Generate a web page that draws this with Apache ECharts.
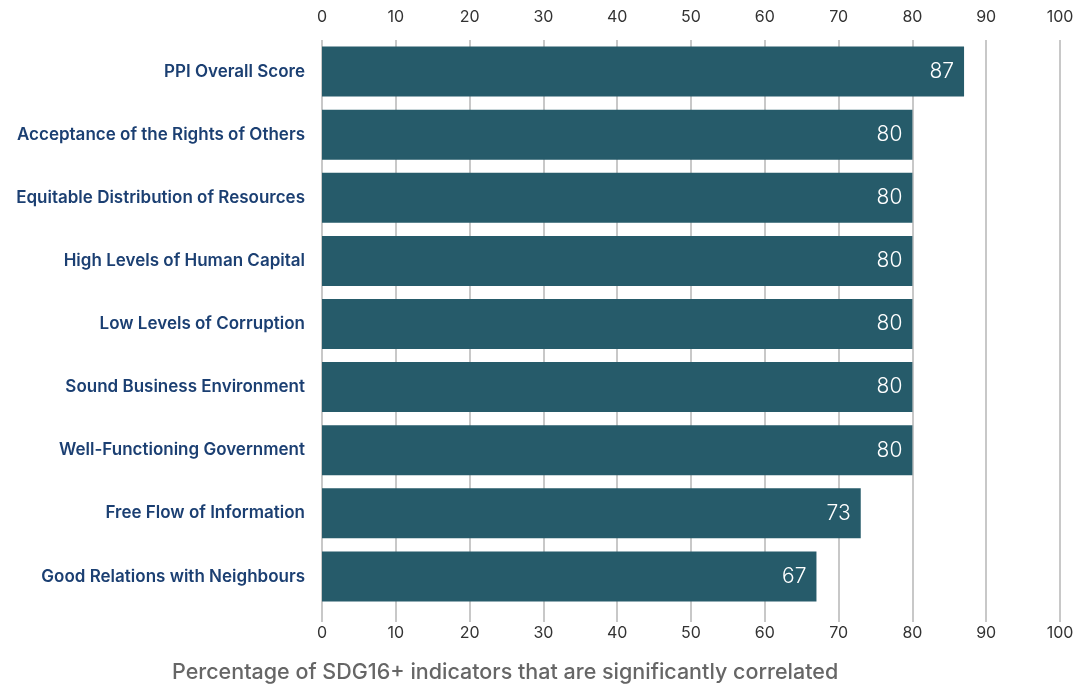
<!DOCTYPE html>
<html>
<head>
<meta charset="utf-8">
<script src="https://cdn.jsdelivr.net/npm/echarts@6/dist/echarts.min.js"></script>
<style>
  html, body { margin: 0; padding: 0; background: #fff; }
  #chart { width: 1087px; height: 688px; }
</style>
</head>
<body>
<div id="chart"></div>
<script>
const categories = [
  'PPI Overall Score',
  'Acceptance of the Rights of Others',
  'Equitable Distribution of Resources',
  'High Levels of Human Capital',
  'Low Levels of Corruption',
  'Sound Business Environment',
  'Well-Functioning Government',
  'Free Flow of Information',
  'Good Relations with Neighbours'
];
const values = [87, 80, 80, 80, 80, 80, 80, 73, 67];
const tickLabels = [0, 10, 20, 30, 40, 50, 60, 70, 80, 90, 100];

const font = 'Inter, "Open Sans", sans-serif';
const gridColor = '#c8c8c8';

const chart = echarts.init(document.getElementById('chart'));

chart.setOption({
  animation: false,
  grid: { left: 322, right: 27, top: 40, bottom: 80 },
  graphic: [{
    type: 'text',
    left: 172,
    top: 662,
    style: {
      text: 'Percentage of SDG16+ indicators that are significantly correlated',
      fill: '#666',
      font: '500 21.5px ' + font
    }
  }],
  xAxis: [
    {
      type: 'value',
      position: 'top',
      min: tickLabels[0],
      max: tickLabels[tickLabels.length - 1],
      interval: 10,
      axisLine: { show: false },
      axisTick: { show: false },
      axisLabel: { color: '#333', fontSize: 16, fontFamily: font, margin: 15 },
      splitLine: { show: true, lineStyle: { color: gridColor, width: 2 } }
    },
    {
      type: 'value',
      position: 'bottom',
      min: tickLabels[0],
      max: tickLabels[tickLabels.length - 1],
      interval: 10,
      axisLine: { show: false },
      axisTick: { show: true, length: 14, lineStyle: { color: gridColor, width: 2 } },
      axisLabel: { color: '#333', fontSize: 16, fontFamily: font, margin: 17 },
      splitLine: { show: false }
    }
  ],
  yAxis: {
    type: 'category',
    inverse: true,
    data: categories,
    axisLine: { show: false },
    axisTick: { show: false },
    axisLabel: {
      color: '#1b3f72',
      fontSize: 17,
      fontWeight: 600,
      fontFamily: font,
      margin: 17
    }
  },
  series: [{
    type: 'bar',
    xAxisIndex: 0,
    data: values,
    barWidth: 50,
    itemStyle: { color: '#265b6a' },
    label: {
      show: true,
      position: 'insideRight',
      distance: 10,
      color: '#fff',
      fontSize: 21,
      fontWeight: 300,
      fontFamily: font
    }
  }]
});
</script>
</body>
</html>
